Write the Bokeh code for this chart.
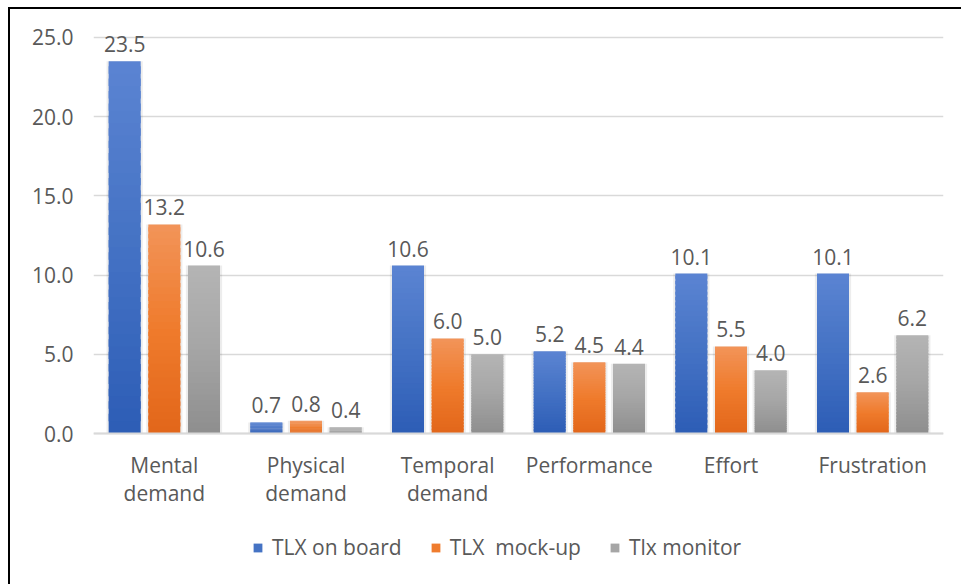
from bokeh.plotting import figure
from bokeh.models import (FactorRange, Range1d, FixedTicker, PrintfTickFormatter,
                          ColumnDataSource, Legend, LegendItem)
from bokeh.transform import dodge
from bokeh.core.properties import value
from bokeh.embed import file_html
from bokeh.resources import INLINE

# ---------------- data ----------------
categories = ["Mental\ndemand", "Physical\ndemand", "Temporal\ndemand",
              "Performance", "Effort", "Frustration"]
series_names = ["TLX on board", "TLX  mock-up", "Tlx monitor"]
tlx_on_board = [23.5, 0.7, 10.6, 5.2, 10.1, 10.1]
tlx_mock_up = [13.2, 0.8, 6.0, 4.5, 5.5, 2.6]
tlx_monitor = [10.6, 0.4, 5.0, 4.4, 4.0, 6.2]
y_ticks = [0, 5, 10, 15, 20, 25]

# ---------------- style ----------------
FONT = "Open Sans"
FS = "21px"
TXT = "#595959"
GRID = "#d9d9d9"
gradients = [("#5b84d2", "#4472c4", "#2d5db6"),
             ("#f29459", "#ef7b2c", "#e2661a"),
             ("#b5b5b5", "#a5a5a5", "#8e8e8e")]
offsets = [-0.28, 0.0, 0.28]
BAR_W = 0.226
NSEG = 30


def hex2rgb(h):
    h = h.lstrip("#")
    return [int(h[i:i + 2], 16) for i in (0, 2, 4)]


def grad_color(stops, t):
    # t = 0 top, 1 bottom
    a, b, c = [hex2rgb(s) for s in stops]
    if t <= 0.5:
        f = t / 0.5
        p0, p1 = a, b
    else:
        f = (t - 0.5) / 0.5
        p0, p1 = b, c
    rgb = [round(p0[i] + (p1[i] - p0[i]) * f) for i in range(3)]
    return "#%02x%02x%02x" % tuple(rgb)


# the frame reaches below zero so that the category labels and legend sit inside it
p = figure(x_range=FactorRange(factors=categories, range_padding=0),
           y_range=Range1d(-8.96, 26.07),
           frame_width=850, frame_height=555,
           min_border_left=83, min_border_right=18,
           min_border_top=11, min_border_bottom=10,
           output_backend="svg", toolbar_location=None,
           styles={"border-left": "2px solid #000", "border-top": "2px solid #000",
                   "margin-left": "8px", "margin-top": "7px"})

p.outline_line_color = None
p.xgrid.grid_line_color = None
p.ygrid.grid_line_color = GRID
p.ygrid.grid_line_width = 1.5
p.background_fill_color = "white"
p.border_fill_color = "white"

# y axis
p.yaxis.ticker = FixedTicker(ticks=y_ticks)
p.yaxis.formatter = PrintfTickFormatter(format="%.1f")
p.yaxis.axis_line_color = None
p.yaxis.major_tick_line_color = None
p.yaxis.minor_tick_line_color = None
p.yaxis.major_tick_out = 0
p.yaxis.major_tick_in = 0
p.yaxis.major_label_standoff = 20
p.yaxis.major_label_text_font = FONT
p.yaxis.major_label_text_font_size = FS
p.yaxis.major_label_text_color = TXT

# x axis, drawn at y = 0
p.xaxis.fixed_location = 0
p.xaxis.axis_line_color = GRID
p.xaxis.axis_line_width = 2
p.xaxis.major_tick_line_color = None
p.xaxis.minor_tick_line_color = None
p.xaxis.major_tick_out = 0
p.xaxis.major_tick_in = 0
p.xaxis.major_label_standoff = 17
p.xaxis.major_label_text_font = FONT
p.xaxis.major_label_text_font_size = FS
p.xaxis.major_label_text_color = TXT
p.xaxis.major_label_text_line_height = 1.0

all_series = [tlx_on_board, tlx_mock_up, tlx_monitor]
legend_items = []
for s, (vals, name) in enumerate(zip(all_series, series_names)):
    # soft shadow behind each bar
    ssrc = ColumnDataSource(dict(x=categories, top=vals))
    p.vbar(x=dodge("x", offsets[s], range=p.x_range), bottom=0, top="top",
           width=BAR_W + 0.03, fill_color="#000000", fill_alpha=0.07,
           line_color=None, source=ssrc)

    xs, bots, tops, cols = [], [], [], []
    for cat, v in zip(categories, vals):
        for k in range(NSEG):
            xs.append(cat)
            bots.append(v * k / NSEG)
            tops.append(min(v, v * (k + 1.6) / NSEG))
            cols.append(grad_color(gradients[s], 1 - (k + 0.5) / NSEG))
    src = ColumnDataSource(dict(x=xs, bottom=bots, top=tops, color=cols))
    r = p.vbar(x=dodge("x", offsets[s], range=p.x_range), bottom="bottom", top="top",
               width=BAR_W, fill_color="color", line_color=None,
               source=src)
    legend_items.append(LegendItem(label=name, renderers=[r], index=NSEG // 2))

    lsrc = ColumnDataSource(dict(x=categories, y=vals, t=["%.1f" % v for v in vals]))
    p.text(x=dodge("x", offsets[s], range=p.x_range), y="y", text="t", source=lsrc,
           text_align="center", text_baseline="alphabetic", y_offset=-17,
           text_font=value(FONT), text_font_size=FS, text_color=TXT)

legend = Legend(items=legend_items, orientation="horizontal", location=(159, 14),
                glyph_width=11, glyph_height=11, label_standoff=9, spacing=28,
                label_text_font=FONT, label_text_font_size=FS, label_text_color=TXT,
                border_line_color=None, background_fill_alpha=0,
                margin=0, padding=0)
p.add_layout(legend, "center")

open("out.html", "w").write(file_html(p, INLINE))
